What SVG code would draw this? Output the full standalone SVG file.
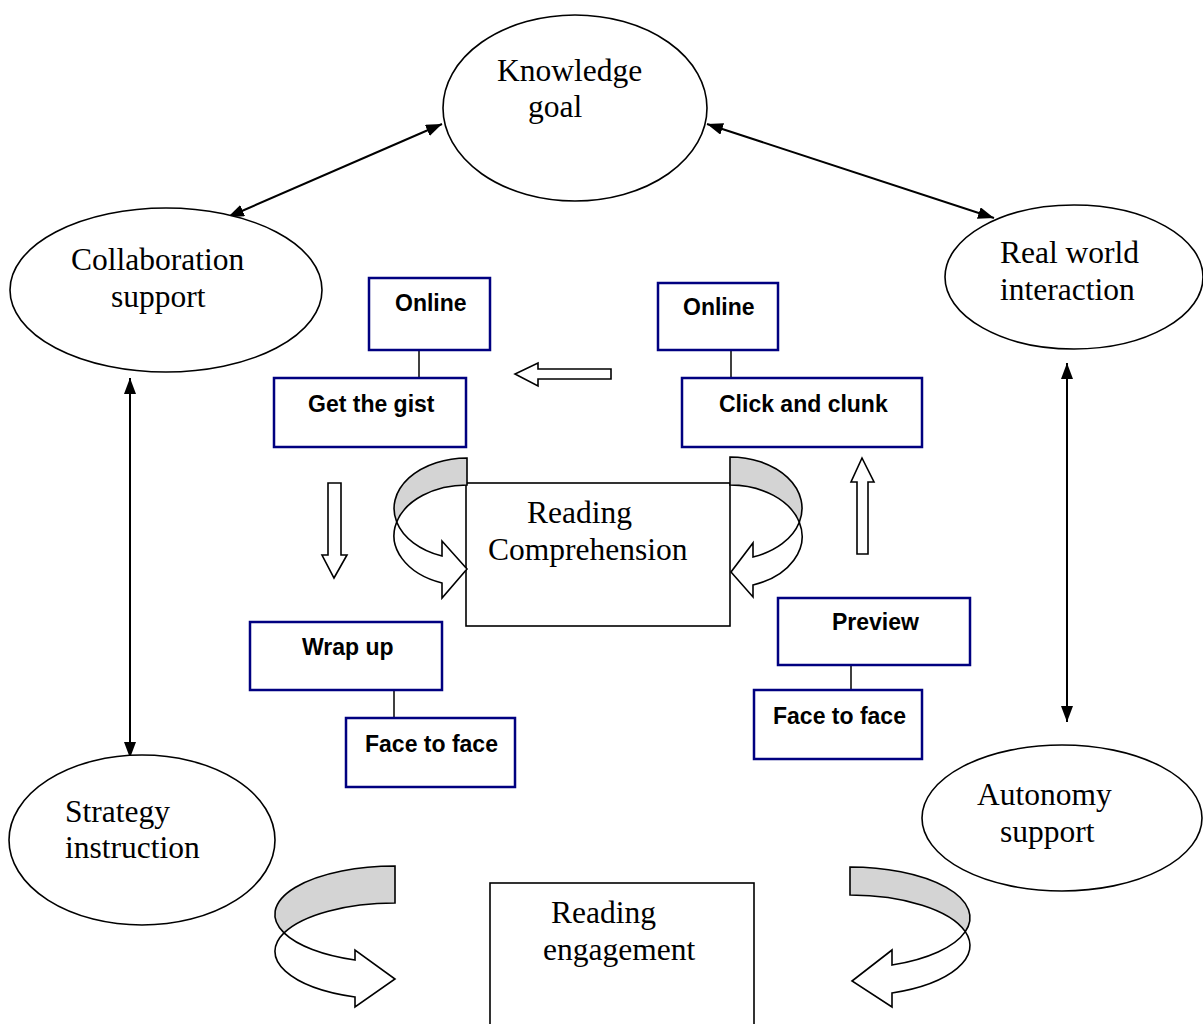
<svg xmlns="http://www.w3.org/2000/svg" width="1203" height="1024" viewBox="0 0 1203 1024">
  <style>
    .oval { fill: #ffffff; stroke: #000000; stroke-width: 1.6; }
    .box { fill: #ffffff; stroke: #000080; stroke-width: 2.5; }
    .core { fill: #ffffff; stroke: #000000; stroke-width: 1.6; }
    .serif { font-family: "Liberation Serif", "Times New Roman", serif; font-size: 31.5px; fill: #000000; }
    .sans { font-family: "Liberation Sans", Arial, sans-serif; font-size: 23px; font-weight: bold; fill: #000000; }
    .link { stroke: #000000; stroke-width: 2; fill: none; }
    .tie { stroke: #000000; stroke-width: 1.5; fill: none; }
    .block { fill: #ffffff; stroke: #000000; stroke-width: 1.6; stroke-linejoin: miter; }
    .back { fill: #d4d4d4; stroke: #000000; stroke-width: 1.6; }
  </style>
  <defs>
    <marker id="head" viewBox="0 0 16 12" markerWidth="16" markerHeight="12" refX="16" refY="6" orient="auto-start-reverse" markerUnits="userSpaceOnUse">
      <path d="M0,0 L16,6 L0,12 Z" fill="#000000"/>
    </marker>
  </defs>
  <rect width="1203" height="1024" fill="#ffffff"/>

  <!-- connectors: double-headed links, box ties, block arrows -->
  <g id="connectors">
    <line class="link" x1="442" y1="124" x2="228" y2="217" marker-start="url(#head)" marker-end="url(#head)"/>
    <line class="link" x1="707" y1="124" x2="994" y2="218" marker-start="url(#head)" marker-end="url(#head)"/>
    <line class="link" x1="130" y1="378" x2="130" y2="758" marker-start="url(#head)" marker-end="url(#head)"/>
    <line class="link" x1="1067" y1="363" x2="1067" y2="722" marker-start="url(#head)" marker-end="url(#head)"/>

    <line class="tie" x1="419" y1="350" x2="419" y2="378"/>
    <line class="tie" x1="731" y1="350" x2="731" y2="378"/>
    <line class="tie" x1="394" y1="690" x2="394" y2="718"/>
    <line class="tie" x1="851" y1="665" x2="851" y2="690"/>

    <path class="block" d="M611,369 L538,369 L538,363 L515,374 L538,386 L538,379 L611,379 Z"/>
    <path class="block" d="M328,483 L341,483 L341,555 L347,555 L334,578 L322,555 L328,555 Z"/>
    <path class="block" d="M857,554 L868,554 L868,482 L874,482 L862,458 L851,482 L857,482 Z"/>
  </g>

  <!-- outer oval nodes -->
  <g id="knowledge-goal">
    <ellipse class="oval" cx="575" cy="108" rx="132" ry="93"/>
    <text class="serif" x="497" y="81">Knowledge</text>
    <text class="serif" x="528" y="117">goal</text>
  </g>
  <g id="collaboration-support">
    <ellipse class="oval" cx="166" cy="290" rx="156" ry="82"/>
    <text class="serif" x="71" y="270">Collaboration</text>
    <text class="serif" x="111" y="307">support</text>
  </g>
  <g id="real-world-interaction">
    <ellipse class="oval" cx="1074" cy="277" rx="129" ry="72"/>
    <text class="serif" x="1000" y="263">Real world</text>
    <text class="serif" x="1000" y="300">interaction</text>
  </g>
  <g id="strategy-instruction">
    <ellipse class="oval" cx="142" cy="840" rx="133" ry="85"/>
    <text class="serif" x="65" y="822">Strategy</text>
    <text class="serif" x="65" y="858">instruction</text>
  </g>
  <g id="autonomy-support">
    <ellipse class="oval" cx="1062" cy="818" rx="140" ry="73"/>
    <text class="serif" x="977" y="805">Autonomy</text>
    <text class="serif" x="1000" y="842">support</text>
  </g>

  <!-- strategy boxes -->
  <g id="online-left">
    <rect class="box" x="369" y="278" width="121" height="72"/>
    <text class="sans" x="395" y="311">Online</text>
  </g>
  <g id="get-the-gist">
    <rect class="box" x="274" y="378" width="192" height="69"/>
    <text class="sans" x="308" y="412">Get the gist</text>
  </g>
  <g id="online-right">
    <rect class="box" x="658" y="283" width="120" height="67"/>
    <text class="sans" x="683" y="315">Online</text>
  </g>
  <g id="click-and-clunk">
    <rect class="box" x="682" y="378" width="240" height="69"/>
    <text class="sans" x="719" y="412">Click and clunk</text>
  </g>
  <g id="wrap-up">
    <rect class="box" x="250" y="622" width="192" height="68"/>
    <text class="sans" x="302" y="655">Wrap up</text>
  </g>
  <g id="face-to-face-left">
    <rect class="box" x="346" y="718" width="169" height="69"/>
    <text class="sans" x="365" y="752">Face to face</text>
  </g>
  <g id="preview">
    <rect class="box" x="778" y="598" width="192" height="67"/>
    <text class="sans" x="832" y="630">Preview</text>
  </g>
  <g id="face-to-face-right">
    <rect class="box" x="754" y="690" width="168" height="69"/>
    <text class="sans" x="773" y="724">Face to face</text>
  </g>

  <!-- central outcome boxes -->
  <g id="reading-comprehension">
    <rect class="core" x="466" y="483" width="264" height="143"/>
    <text class="serif" x="527" y="523">Reading</text>
    <text class="serif" x="488" y="560">Comprehension</text>
  </g>
  <g id="reading-engagement">
    <rect class="core" x="490" y="883" width="264" height="150"/>
    <text class="serif" x="551" y="923">Reading</text>
    <text class="serif" x="543" y="960">engagement</text>
  </g>

  <!-- curved ribbon arrows feeding the central boxes -->
  <g id="cycle-arrows">
    <path class="back" d="M467,458 A73,50.5 0 0 0 396.7,522 A73,50.5 0 0 1 467,485 Z"/>
    <path class="block" d="M396.7,522 A73,50.5 0 0 0 442,583 L442,598 L467,569 L442,541 L442,556 A73,50.5 0 0 1 396.7,522 Z"/>

    <path class="back" d="M730,457 A72,51.3 0 0 1 799.3,522.3 A72,51.3 0 0 0 730,485 Z"/>
    <path class="block" d="M799.3,522.3 A72,51.3 0 0 1 753,585 L753,597 L731,572 L753,543 L753,557 A72,51.3 0 0 0 799.3,522.3 Z"/>

    <path class="back" d="M395,866 A120,48.4 0 0 0 284,932.9 A120,48.4 0 0 1 395,903 Z"/>
    <path class="block" d="M284,932.9 A120,48.4 0 0 0 355,997 L355,1007 L395,979 L355,950 L355,960 A120,48.4 0 0 1 284,932.9 Z"/>

    <path class="back" d="M850,867 A120,50.6 0 0 1 965.3,931.6 A120,50.6 0 0 0 850,895 Z"/>
    <path class="block" d="M965.3,931.6 A120,50.6 0 0 1 892,993 L892,1007 L852,981 L892,950 L892,965 A120,50.6 0 0 0 965.3,931.6 Z"/>
  </g>
</svg>
